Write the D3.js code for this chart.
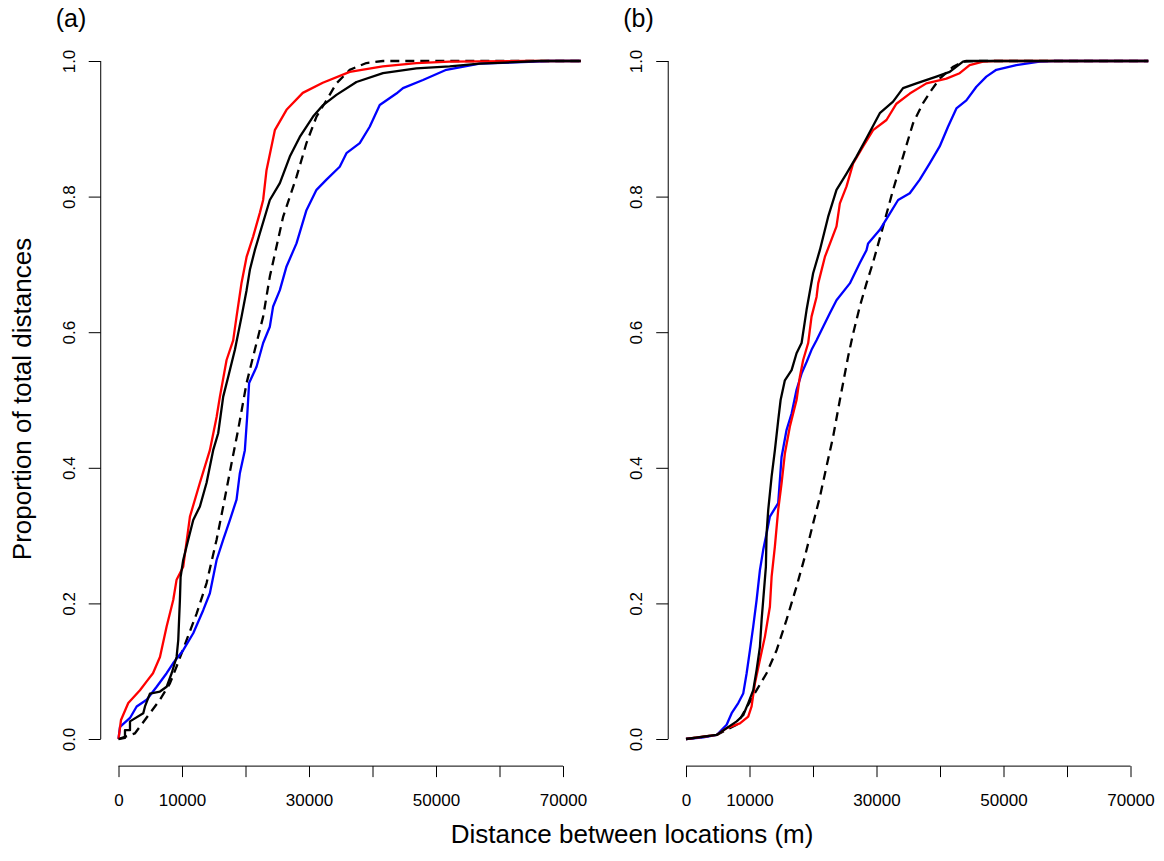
<html>
  <head>
    <script src="https://d3js.org/d3.v7.min.js"></script>
  </head>
  <style type="text/css">
    body { margin: 0; background: #fff; }
    svg { font-family: "Liberation Sans", Arial, sans-serif; }
    .curve { fill: none; stroke-width: 2.3; stroke-linejoin: round; }
    .axis path, .axis line { stroke: #000; }
    .axis text { font-size: 17px; fill: #000; }
  </style>
  <body>
    <div id="chart"></div>
  </body>
  <script type="text/javascript">
    // x ticks and which ones get labels (R drops the overlapping ones)
    var xTicks = [0, 10000, 20000, 30000, 40000, 50000, 60000, 70000];
    var xLabelled = [0, 10000, 30000, 50000, 70000];
    var yTicks = [0, 0.2, 0.4, 0.6, 0.8, 1.0];

    /* panel (a): [distance, proportion] */
    var aRed = [[0,0],[393,0.028],[1540,0.053],[3380,0.072],[4440,0.085],[5430,0.097],[6530,0.121],
      [7580,0.166],[8620,0.205],[9150,0.235],[10190,0.254],[11250,0.328],[12820,0.378],[14390,0.426],
      [15450,0.475],[15970,0.505],[17020,0.559],[18060,0.588],[18590,0.623],[19380,0.673],[20170,0.711],
      [21200,0.741],[22260,0.776],[22780,0.795],[23310,0.839],[24620,0.898],[26460,0.928],[29020,0.953],
      [32170,0.968],[36420,0.984],[41610,0.992],[46910,0.997],[52150,0.999],[64730,1],[72800,1]];

    var aBlack = [[0,0],[1020,0.0015],[1020,0.013],[1810,0.013],[1810,0.026],[3900,0.038],[4170,0.048],
      [4950,0.067],[6530,0.070],[7580,0.077],[8370,0.097],[9150,0.121],[9410,0.146],[9670,0.205],
      [9780,0.239],[10190,0.264],[10980,0.294],[11770,0.323],[12820,0.343],[13870,0.378],[14910,0.426],
      [15700,0.451],[16490,0.505],[17270,0.534],[18330,0.574],[19380,0.623],[20170,0.662],[20690,0.692],
      [21470,0.721],[22260,0.746],[23830,0.795],[25410,0.820],[26980,0.859],[28550,0.888],[30640,0.918],
      [32220,0.935],[34320,0.950],[37470,0.969],[41650,0.982],[46910,0.989],[52150,0.992],[56870,0.996],
      [66300,1],[72800,1]];

    var aDashed = [[0,0],[2600,0.0084],[6530,0.058],[8100,0.082],[9150,0.107],[10730,0.146],[12300,0.185],
      [13870,0.230],[15450,0.294],[16490,0.343],[17810,0.407],[18840,0.456],[20170,0.525],[21470,0.574],
      [22780,0.623],[23830,0.682],[25920,0.770],[28030,0.829],[29600,0.879],[31180,0.918],[32750,0.942],
      [34320,0.967],[36420,0.987],[39040,0.997],[41650,1],[72800,1]];

    var aBlue = [[0,0],[240,0.018],[1810,0.031],[2860,0.048],[4440,0.058],[6010,0.077],[7580,0.097],
      [8620,0.112],[10190,0.131],[11770,0.156],[13340,0.190],[14390,0.215],[15450,0.264],[16490,0.294],
      [17540,0.323],[18590,0.353],[19110,0.392],[19900,0.426],[20260,0.475],[20570,0.525],[21740,0.549],
      [22780,0.584],[23830,0.608],[24350,0.638],[25410,0.662],[26460,0.697],[28030,0.731],[29600,0.780],
      [31180,0.810],[32750,0.825],[34840,0.844],[35900,0.864],[37990,0.879],[39560,0.903],[41140,0.935],
      [43760,0.952],[44800,0.960],[47950,0.972],[51630,0.987],[56870,0.996],[67880,1],[72800,1]];

    /* panel (b) */
    var bBlue = [[0,0],[2720,0.0025],[4830,0.006],[6400,0.021],[7190,0.038],[8230,0.053],[9010,0.067],
      [9550,0.097],[10070,0.131],[10590,0.166],[11120,0.205],[11640,0.249],[12160,0.279],[12690,0.303],
      [13210,0.328],[14520,0.348],[15050,0.416],[15840,0.456],[16630,0.480],[17410,0.515],[18200,0.539],
      [18990,0.556],[19770,0.574],[20560,0.588],[21600,0.608],[22650,0.628],[23700,0.647],[25800,0.672],
      [27370,0.702],[28420,0.721],[28680,0.731],[30520,0.751],[32090,0.775],[33400,0.795],[35240,0.805],
      [36810,0.825],[38380,0.849],[39950,0.874],[41260,0.903],[42580,0.930],[44150,0.942],[45730,0.962],
      [47300,0.977],[48870,0.987],[52020,0.994],[55680,0.999],[58040,1],[72800,1]];

    var bBlack = [[0,0],[4830,0.006],[6400,0.016],[7980,0.026],[9010,0.035],[9800,0.053],[10590,0.072],
      [11120,0.102],[11640,0.136],[11910,0.176],[12160,0.205],[12580,0.254],[12690,0.303],[12950,0.338],
      [13480,0.387],[14000,0.426],[14520,0.470],[14900,0.500],[15570,0.529],[16630,0.544],[17410,0.569],
      [18200,0.584],[18990,0.633],[20020,0.687],[21080,0.721],[22380,0.770],[23700,0.810],[25280,0.834],
      [26850,0.859],[28420,0.886],[30520,0.923],[32610,0.940],[34180,0.960],[36290,0.967],[39430,0.977],
      [41530,0.984],[43620,0.999],[44150,1],[72800,1]];

    var bRed = [[0,0],[4830,0.006],[6400,0.016],[8490,0.023],[9800,0.033],[10330,0.048],[10850,0.082],
      [11640,0.117],[12430,0.151],[13210,0.195],[13480,0.239],[14000,0.284],[14520,0.338],[15050,0.377],
      [15570,0.421],[16360,0.461],[17410,0.500],[17930,0.534],[18450,0.559],[19240,0.584],[19770,0.623],
      [20560,0.652],[20820,0.672],[21870,0.711],[23700,0.756],[24230,0.790],[25280,0.815],[26320,0.849],
      [27890,0.874],[29460,0.898],[31570,0.913],[33140,0.937],[35240,0.952],[37860,0.967],[41010,0.974],
      [43100,0.982],[44670,0.994],[46770,0.999],[48600,1],[72800,1]];

    var bDashed = [[0,0],[4830,0.006],[7980,0.021],[11120,0.072],[12690,0.097],[14270,0.131],[15840,0.176],
      [17410,0.225],[18720,0.269],[20020,0.318],[21080,0.357],[22130,0.402],[23170,0.446],[24230,0.500],
      [25530,0.564],[26320,0.598],[27370,0.638],[28420,0.672],[29460,0.703],[31040,0.756],[32610,0.810],
      [34180,0.859],[35750,0.908],[37330,0.938],[38650,0.957],[39950,0.974],[42000,0.991],[43570,0.999],
      [45460,1],[72800,1]];

    var panels = [
      {label: "(a)", left: 118.5, lines: [
        {data: aDashed, color: "#000", dash: "9,6"},
        {data: aBlue, color: "#0000ff"},
        {data: aRed, color: "#ff0000"},
        {data: aBlack, color: "#000"}]},
      {label: "(b)", left: 686, lines: [
        {data: bDashed, color: "#000", dash: "9,6"},
        {data: bBlue, color: "#0000ff"},
        {data: bRed, color: "#ff0000"},
        {data: bBlack, color: "#000"}]}
    ];

    var width = 1164, height = 861;
    var plotW = 444.5;
    var y0 = 739, y1 = 61;

    var svg = d3.select("#chart").append("svg")
      .attr("width", width)
      .attr("height", height);

    var yScale = d3.scaleLinear().domain([0, 1]).range([y0, y1]);

    panels.forEach(function(p) {
      var xScale = d3.scaleLinear().domain([0, 70000]).range([p.left, p.left + plotW]);
      var axisX = p.left - 2800 * plotW / 70000;   // R's 4% padding
      var axisY = yScale(-0.04);

      var line = d3.line()
        .x(d => xScale(d[0]))
        .y(d => yScale(d[1]));

      svg.append("g").selectAll("path")
        .data(p.lines).enter()
        .append("path")
        .attr("class", "curve")
        .attr("d", d => line(d.data))
        .style("stroke", d => d.color)
        .style("stroke-dasharray", d => d.dash || null);

      /* x axis */
      var xAxis = d3.axisBottom(xScale)
        .tickValues(xTicks)
        .tickSize(11)
        .tickPadding(17)
        .tickSizeOuter(0)
        .tickFormat(d => xLabelled.indexOf(d) >= 0 ? String(d) : "");
      svg.append("g")
        .attr("class", "axis")
        .attr("transform", `translate(0, ${axisY})`)
        .call(xAxis)
        .call(g => g.select(".domain").attr("d", `M${xScale(0)},0H${xScale(70000)}`));

      /* y axis, rotated labels */
      var yAxis = d3.axisLeft(yScale)
        .tickValues(yTicks)
        .tickSize(12)
        .tickSizeOuter(0)
        .tickFormat(d3.format(".1f"));
      svg.append("g")
        .attr("class", "axis")
        .attr("transform", `translate(${axisX}, 0)`)
        .call(yAxis)
        .call(g => g.select(".domain").attr("d", `M0,${yScale(0)}V${yScale(1)}`))
        .call(g => g.selectAll(".tick text")
          .attr("x", null)
          .attr("dy", "0.35em")
          .attr("text-anchor", "middle")
          .attr("transform", "translate(-32,0) rotate(-90)"));

      svg.append("text")
        .attr("x", axisX - 45)
        .attr("y", 27)
        .style("font-size", "25px")
        .text(p.label);
    });

    svg.append("text")
      .attr("x", 632)
      .attr("y", 843)
      .attr("text-anchor", "middle")
      .style("font-size", "26px")
      .text("Distance between locations (m)");

    svg.append("text")
      .attr("transform", "translate(31, 399) rotate(-90)")
      .attr("text-anchor", "middle")
      .style("font-size", "26px")
      .text("Proportion of total distances");
  </script>
</html>
